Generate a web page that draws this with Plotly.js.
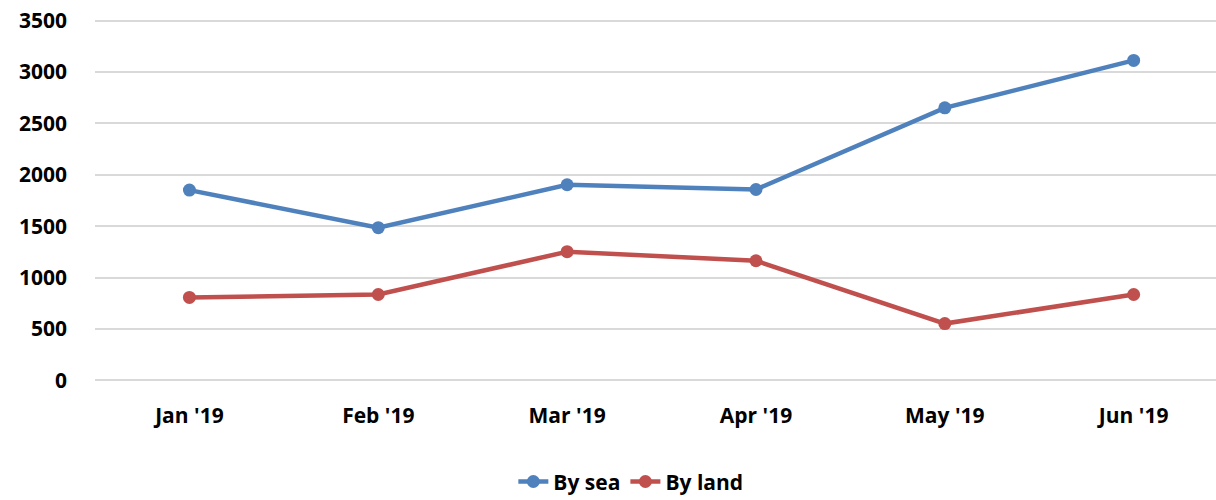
<!DOCTYPE html>
<html>
<head>
<meta charset="utf-8">
<script src="https://cdn.plot.ly/plotly-3.0.1.min.js"></script>
<style>html,body{margin:0;padding:0;background:#fff;}#chart{width:1216px;height:500px;}</style>
</head>
<body>
<div id="chart"></div>
<script>
var months = ["Jan '19", "Feb '19", "Mar '19", "Apr '19", "May '19", "Jun '19"];
var bySea = [1851, 1486, 1903, 1857, 2651, 3112];
var byLand = [807, 836, 1252, 1164, 553, 836];
var yTicks = [0, 500, 1000, 1500, 2000, 2500, 3000, 3500];

var fontFam = "'Open Sans', 'Liberation Sans', sans-serif";

var traces = [
  {x: months, y: bySea, name: 'By sea', type: 'scatter', mode: 'lines+markers',
   line: {color: '#4F81BD', width: 4.5}, marker: {color: '#4F81BD', size: 13}},
  {x: months, y: byLand, name: 'By land', type: 'scatter', mode: 'lines+markers',
   line: {color: '#C0504D', width: 4.5}, marker: {color: '#C0504D', size: 13}}
];

var layout = {
  width: 1216, height: 500,
  margin: {l: 95, r: 0, t: 19, b: 118, autoexpand: false},
  paper_bgcolor: '#fff', plot_bgcolor: '#fff',
  font: {family: fontFam, size: 21, color: '#000', weight: 'bold'},
  showlegend: true,
  legend: {orientation: 'h', x: 0.478, xanchor: 'center', y: -0.275, yanchor: 'middle',
           font: {family: fontFam, size: 21, color: '#000', weight: 'bold'}, traceorder: 'normal'},
  xaxis: {type: 'category', range: [-0.5, 5.436], showgrid: false, zeroline: false,
          showline: false, ticks: '', ticklabelstandoff: 19,
          tickfont: {family: fontFam, size: 21, color: '#000', weight: 'bold'}},
  yaxis: {range: [-15, 3515], tickvals: yTicks, ticktext: yTicks.map(String),
          showgrid: true, gridcolor: '#D9D9D9', gridwidth: 2, zeroline: false,
          showline: false, ticks: '', ticklabelstandoff: 27,
          tickfont: {family: fontFam, size: 21, color: '#000', weight: 'bold'}}
};

Plotly.newPlot('chart', traces, layout, {displayModeBar: false, staticPlot: true});
</script>
</body>
</html>
